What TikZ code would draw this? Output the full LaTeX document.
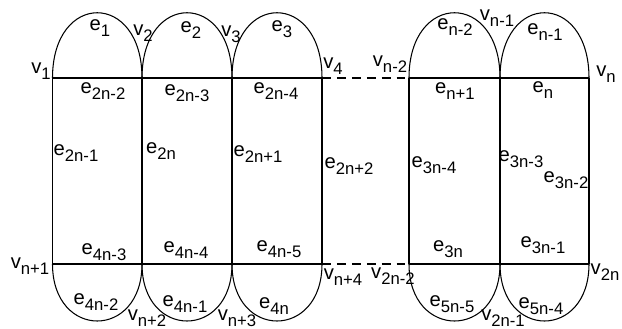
\documentclass[tikz,border=0pt]{standalone}
\usepackage{fontspec}
\setmainfont{Liberation Sans}
\usetikzlibrary{calc}
\newcommand{\sublab}[2]{#1\raisebox{-0.3em}{\fontsize{9.5}{10}\selectfont #2}}
\tikzset{
  % plain edge
  Ed/.style={line width=0.6pt,color=black},
  % dashed gap edge
  DEd/.style={Ed,dash pattern=on 5pt off 3.5pt},
  % edge / vertex label
  Lb/.style={inner sep=0pt,font=\fontsize{11.5}{12}\selectfont},
}
\begin{document}
\begin{tikzpicture}[x=0.02cm,y=0.02cm]
  \useasboundingbox (0,0) rectangle (622,328);
  % vertices, top and bottom row
  \coordinate (t1) at (52.5,250); \coordinate (b1) at (52.5,64);
  \coordinate (t2) at (142,250);  \coordinate (b2) at (142,64);
  \coordinate (t3) at (232,250);  \coordinate (b3) at (232,64);
  \coordinate (t4) at (322,250);  \coordinate (b4) at (322,64);
  \coordinate (t5) at (409,250);  \coordinate (b5) at (409,64);
  \coordinate (t6) at (500,250);  \coordinate (b6) at (500,64);
  \coordinate (t7) at (589,250);  \coordinate (b7) at (589,64);
  % rungs
  \foreach \i in {1,...,7}
    \draw[Ed] (t\i) -- (b\i);
  % rails
  \draw[Ed] (t1) -- (t4);  \draw[Ed] (t5) -- (t7);
  \draw[Ed] (b1) -- (b4);  \draw[Ed] (b5) -- (b7);
  \draw[DEd] (t4) -- (t5);
  \draw[DEd] (b4) -- (b5);
  % arcs
  \foreach \a/\b in {1/2,2/3,3/4,5/6,6/7}{
    \draw[Ed] (t\a) .. controls +(0,87) and +(0,87) .. (t\b);
    \draw[Ed] (b\a) .. controls +(0,-76) and +(0,-76) .. (b\b);
  }
  % vertex labels
  \node[Lb] (l-v1)  at (41,257)  {\sublab{v}{1}};
  \node[Lb] (l-v2)  at (143,295) {\sublab{v}{2}};
  \node[Lb] (l-v3)  at (231,294) {\sublab{v}{3}};
  \node[Lb] (l-v4)  at (333,262) {\sublab{v}{4}};
  \node[Lb] (l-vn2) at (390,264) {\sublab{v}{n-2}};
  \node[Lb] (l-vn1) at (497,310) {\sublab{v}{n-1}};
  \node[Lb] (l-vn)  at (606,254) {\sublab{v}{n}};
  \node[Lb] (l-vna) at (30,62)   {\sublab{v}{n+1}};
  \node[Lb] (l-vnb) at (147,10)  {\sublab{v}{n+2}};
  \node[Lb] (l-vnc) at (237,10)  {\sublab{v}{n+3}};
  \node[Lb] (l-vnd) at (343,51)  {\sublab{v}{n+4}};
  \node[Lb] (l-vmc) at (393,52)  {\sublab{v}{2n-2}};
  \node[Lb] (l-vmb) at (503,10)  {\sublab{v}{2n-1}};
  \node[Lb] (l-vm)  at (605,56)  {\sublab{v}{2n}};
  % edge labels, top arcs
  \node[Lb] (l-e1)  at (100,300) {\sublab{e}{1}};
  \node[Lb] (l-e2)  at (191,298) {\sublab{e}{2}};
  \node[Lb] (l-e3)  at (282,299) {\sublab{e}{3}};
  \node[Lb] (l-en2) at (455,301) {\sublab{e}{n-2}};
  \node[Lb] (l-en1) at (545,296) {\sublab{e}{n-1}};
  % top rail
  \node[Lb] (l-e2n2) at (103,237) {\sublab{e}{2n-2}};
  \node[Lb] (l-e2n3) at (187,235) {\sublab{e}{2n-3}};
  \node[Lb] (l-e2n4) at (276,237) {\sublab{e}{2n-4}};
  \node[Lb] (l-ena)  at (455,237) {\sublab{e}{n+1}};
  \node[Lb] (l-en)   at (543,238) {\sublab{e}{n}};
  % rungs
  \node[Lb] (l-e2n1) at (76,175)  {\sublab{e}{2n-1}};
  \node[Lb] (l-e2n)  at (161,177) {\sublab{e}{2n}};
  \node[Lb] (l-e2na) at (258,174) {\sublab{e}{2n+1}};
  \node[Lb] (l-e2nb) at (349,162) {\sublab{e}{2n+2}};
  \node[Lb] (l-e3n4) at (434,163) {\sublab{e}{3n-4}};
  \node[Lb] (l-e3n3) at (521,169) {\sublab{e}{3n-3}};
  \node[Lb] (l-e3n2) at (566,148) {\sublab{e}{3n-2}};
  % bottom rail
  \node[Lb] (l-e4n3) at (104,76)  {\sublab{e}{4n-3}};
  \node[Lb] (l-e4n4) at (186,78)  {\sublab{e}{4n-4}};
  \node[Lb] (l-e4n5) at (279,79)  {\sublab{e}{4n-5}};
  \node[Lb] (l-e3n)  at (448,79)  {\sublab{e}{3n}};
  \node[Lb] (l-e3n1) at (543,83)  {\sublab{e}{3n-1}};
  % bottom arcs
  \node[Lb] (l-e4n2) at (96,26)   {\sublab{e}{4n-2}};
  \node[Lb] (l-e4n1) at (185,24)  {\sublab{e}{4n-1}};
  \node[Lb] (l-e4n)  at (274,22)  {\sublab{e}{4n}};
  \node[Lb] (l-e5n5) at (452,24)  {\sublab{e}{5n-5}};
  \node[Lb] (l-e5n4) at (541,22)  {\sublab{e}{5n-4}};
\end{tikzpicture}
\end{document}
